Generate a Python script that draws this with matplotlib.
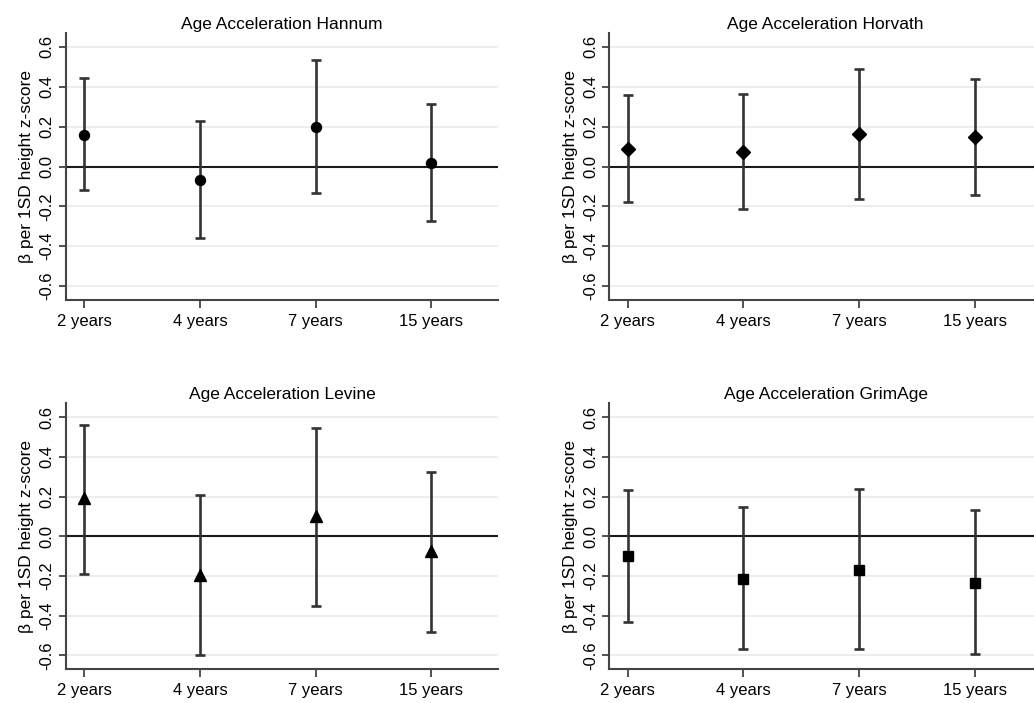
import numpy as np
import matplotlib
matplotlib.use('Agg')
import matplotlib.pyplot as plt

plt.rcParams['font.family'] = ['Liberation Sans', 'DejaVu Sans']

ages = ['2 years', '4 years', '7 years', '15 years']

# Hannum
hannum_est = [0.16, -0.07, 0.20, 0.02]
hannum_lo = [-0.117, -0.36, -0.134, -0.274]
hannum_hi = [0.442, 0.23, 0.535, 0.315]

# Horvath
horvath_est = [0.088, 0.074, 0.163, 0.148]
horvath_lo = [-0.18, -0.215, -0.161, -0.141]
horvath_hi = [0.358, 0.365, 0.488, 0.437]

# Levine
levine_est = [0.193, -0.194, 0.10, -0.075]
levine_lo = [-0.189, -0.598, -0.353, -0.48]
levine_hi = [0.561, 0.206, 0.545, 0.323]

# GrimAge
grim_est = [-0.10, -0.214, -0.169, -0.234]
grim_lo = [-0.43, -0.566, -0.566, -0.591]
grim_hi = [0.235, 0.148, 0.236, 0.13]

panels = [
    ('Age Acceleration Hannum', hannum_est, hannum_lo, hannum_hi, 'o', 7.2),
    ('Age Acceleration Horvath', horvath_est, horvath_lo, horvath_hi, 'D', 7.0),
    ('Age Acceleration Levine', levine_est, levine_lo, levine_hi, '^', 8.0),
    ('Age Acceleration GrimAge', grim_est, grim_lo, grim_hi, 's', 6.5),
]

W, H = 1034., 703.
# axes boxes in pixels: left, top, right, bottom
boxes = [(65.7, 33, 498.3, 300),
         (609.3, 33, 1041.7, 300),
         (65.7, 403.3, 498.3, 669.3),
         (609.3, 403.3, 1041.7, 669.3)]

fig = plt.figure(figsize=(W / 100, H / 100), dpi=100)
dark = '#333333'

for (title, est, lo, hi, mk, ms), (l, t, r, b) in zip(panels, boxes):
    ax = fig.add_axes([l / W, 1 - b / H, (r - l) / W, (b - t) / H])
    x = np.arange(1, len(ages) + 1)
    est = np.array(est)
    err = [est - np.array(lo), np.array(hi) - est]
    for g in [-0.6, -0.4, -0.2, 0.2, 0.4, 0.6]:
        ax.axhline(g, color='#ececec', lw=1.3, zorder=0)
    ax.axhline(0, color='#1a1a1a', lw=1.5, zorder=1)
    ax.errorbar(x, est, yerr=err, fmt=mk, color='black', ecolor=dark,
                elinewidth=1.9, capsize=3.7, capthick=1.9, markersize=ms,
                zorder=3)
    ax.set_xlim(0.84, 4.58)
    ax.set_ylim(-0.67, 0.67)
    ax.set_xticks(x)
    ax.set_xticklabels(ages, fontsize=12)
    ax.set_yticks([-0.6, -0.4, -0.2, 0.0, 0.2, 0.4, 0.6])
    ax.set_yticklabels(['%.1f' % v for v in [-0.6, -0.4, -0.2, 0.0, 0.2, 0.4, 0.6]],
                       fontsize=12, rotation=90, va='center')
    ax.set_ylabel('β per 1SD height z-score', fontsize=12.5, labelpad=4)
    ax.set_title(title, fontsize=12.5, pad=3)
    ax.spines['top'].set_visible(False)
    ax.spines['right'].set_visible(False)
    for s in ['left', 'bottom']:
        ax.spines[s].set_color('#444444')
        ax.spines[s].set_linewidth(1.5)
    ax.tick_params(axis='x', direction='out', length=6, width=1.3,
                   color='#444444', pad=4)
    ax.tick_params(axis='y', direction='out', length=5, width=1.3,
                   color='#444444', pad=3)

plt.savefig('out.png', dpi=100)
